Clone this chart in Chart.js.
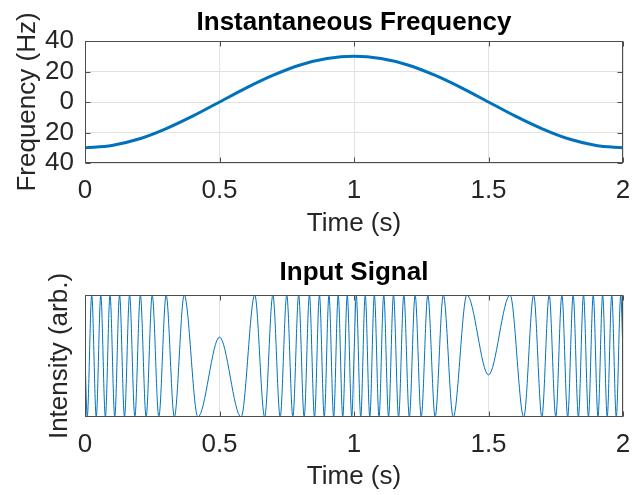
<!DOCTYPE html>
<html>
<head>
<meta charset="utf-8">
<script src="https://cdn.jsdelivr.net/npm/chart.js@4/dist/chart.umd.min.js"></script>
<style>
  body { margin: 0; background: #fff; }
  #wrap { position: relative; width: 634px; height: 495px; }
  .panel { position: absolute; left: 0; }
</style>
</head>
<body>
<div id="wrap">
  <div class="panel" style="top:0"><canvas id="freqChart" width="634" height="248"></canvas></div>
  <div class="panel" style="top:248px"><canvas id="signalChart" width="634" height="247"></canvas></div>
</div>
<script>
// time axis ticks (both panels)
var timeTicks = [0, 0.5, 1, 1.5, 2];
var timeTickLabels = ["0", "0.5", "1", "1.5", "2"];

// top panel: instantaneous frequency (Hz)
var freqTimes = [0, 0.1, 0.2, 0.3, 0.4, 0.5, 0.6, 0.7, 0.8, 0.9, 1.0,
                 1.1, 1.2, 1.3, 1.4, 1.5, 1.6, 1.7, 1.8, 1.9, 2.0];
var freqValues = [-30, -28.5, -24.3, -17.6, -9.3, 0, 9.3, 17.6, 24.3, 28.5, 30,
                  28.5, 24.3, 17.6, 9.3, 0, -9.3, -17.6, -24.3, -28.5, -30];
var freqTickValues = [-40, -20, 0, 20, 40];
var freqTickLabels = ["40", "20", "0", "20", "40"];

// bottom panel: input signal, turning points of the waveform
var signalTimes = [
  0,
  0.0083, 0.0250, 0.0418, 0.0587, 0.0757, 0.0930, 0.1106, 0.1285, 0.1468, 0.1657,
  0.1853, 0.2057, 0.2272, 0.2499, 0.2744, 0.3016, 0.3321, 0.3689, 0.4198,
  0.5,
  0.5802, 0.6311, 0.6679, 0.6984, 0.7256, 0.7501, 0.7728, 0.7943, 0.8147, 0.8343,
  0.8532, 0.8715, 0.8894, 0.9070, 0.9243, 0.9413, 0.9582, 0.9750, 0.9917,
  1.0,
  1.0083, 1.0250, 1.0418, 1.0587, 1.0757, 1.0930, 1.1106, 1.1285, 1.1468, 1.1657,
  1.1853, 1.2057, 1.2272, 1.2499, 1.2744, 1.3016, 1.3321, 1.3689, 1.4198,
  1.5,
  1.5802, 1.6311, 1.6679, 1.6984, 1.7256, 1.7501, 1.7728, 1.7943, 1.8147, 1.8343,
  1.8532, 1.8715, 1.8894, 1.9070, 1.9243, 1.9413, 1.9582, 1.9750, 1.9917,
  2.0
];
var signalValues = [
  0,
  -1, 1, -1, 1, -1, 1, -1, 1, -1, 1, -1, 1, -1, 1, -1, 1, -1, 1, -1,
  0.31,
  -1, 1, -1, 1, -1, 1, -1, 1, -1, 1, -1, 1, -1, 1, -1, 1, -1, 1, -1,
  0,
  1, -1, 1, -1, 1, -1, 1, -1, 1, -1, 1, -1, 1, -1, 1, -1, 1, -1, 1,
  -0.31,
  1, -1, 1, -1, 1, -1, 1, -1, 1, -1, 1, -1, 1, -1, 1, -1, 1, -1, 1,
  0
];

var FONT = "'Liberation Sans', Arial, Helvetica, sans-serif";
var TEXT = "#262626";
var BLUE = "#0072BD";
var GRID = "#e2e2e2";

// matlab style box with inward tick marks
var boxPlugin = {
  id: "box",
  afterDatasetsDraw: function(chart, args, opts) {
    var ctx = chart.ctx, a = chart.chartArea;
    var l = Math.round(a.left) + 0.5, r = Math.round(a.right) - 0.5;
    var t = Math.round(a.top) + 0.5, b = Math.round(a.bottom) - 0.5;
    ctx.save();
    ctx.strokeStyle = "#4d4d4d";
    ctx.lineWidth = 1;
    ctx.strokeRect(l, t, r - l, b - t);
    ctx.beginPath();
    timeTicks.forEach(function(v) {
      var x = Math.round(chart.scales.x.getPixelForValue(v)) + 0.5;
      ctx.moveTo(x, b); ctx.lineTo(x, b - 5);
      ctx.moveTo(x, t); ctx.lineTo(x, t + 5);
    });
    if (opts.yTicks) {
      opts.yTicks.forEach(function(v) {
        var y = Math.round(chart.scales.y.getPixelForValue(v)) + 0.5;
        ctx.moveTo(l, y); ctx.lineTo(l + 5, y);
        ctx.moveTo(r, y); ctx.lineTo(r - 5, y);
      });
    }
    ctx.stroke();
    ctx.restore();
  }
};

function pts(xs, ys) {
  return xs.map(function(x, i) { return {x: x, y: ys[i]}; });
}

function xScale(axisH, titlePad) {
  return {
    type: "linear", min: 0, max: 2,
    afterBuildTicks: function(s) { s.ticks = timeTicks.map(function(v) { return {value: v}; }); },
    afterFit: function(s) { s.height = axisH; s.paddingLeft = 0; s.paddingRight = 0; },
    grid: { color: GRID, drawTicks: false },
    border: { display: false },
    ticks: {
      autoSkip: false, maxRotation: 0, padding: 12, color: TEXT,
      font: { family: FONT, size: 26 },
      callback: function(v) { return timeTickLabels[timeTicks.indexOf(v)]; }
    },
    title: {
      display: true, text: "Time (s)", color: TEXT,
      font: { family: FONT, size: 26 }, padding: { top: 0, bottom: titlePad }
    }
  };
}

function titleOpts(text, top, bottom) {
  return {
    display: true, text: text, color: "#000", fullSize: false,
    font: { family: FONT, size: 26, weight: "bold" },
    padding: { top: top, bottom: bottom }
  };
}

new Chart("freqChart", {
  type: "line",
  data: {
    datasets: [{
      data: pts(freqTimes, freqValues),
      borderColor: BLUE, borderWidth: 3,
      pointRadius: 0, cubicInterpolationMode: "monotone", fill: false
    }]
  },
  options: {
    responsive: false, animation: false,
    layout: { padding: { left: 0, right: 11, top: 0, bottom: 0 } },
    plugins: {
      legend: { display: false }, tooltip: { enabled: false },
      title: titleOpts("Instantaneous Frequency", 6.9, 2.9),
      box: { yTicks: freqTickValues }
    },
    scales: {
      x: xScale(85, 8.4),
      y: {
        min: -40, max: 40,
        afterBuildTicks: function(s) { s.ticks = freqTickValues.map(function(v) { return {value: v}; }); },
        afterFit: function(s) { s.width = 85; },
        grid: { color: GRID, drawTicks: false },
        border: { display: false },
        ticks: {
          autoSkip: false, padding: 11, color: TEXT, font: { family: FONT, size: 26 },
          callback: function(v) { return freqTickLabels[freqTickValues.indexOf(v)]; }
        },
        title: {
          display: true, text: "Frequency (Hz)", color: TEXT,
          font: { family: FONT, size: 26 }, padding: { top: 12.4, bottom: 0 }
        }
      }
    }
  },
  plugins: [boxPlugin]
});

new Chart("signalChart", {
  type: "line",
  data: {
    datasets: [{
      data: pts(signalTimes, signalValues),
      borderColor: BLUE, borderWidth: 1,
      pointRadius: 0, cubicInterpolationMode: "monotone", fill: false
    }]
  },
  options: {
    responsive: false, animation: false,
    layout: { padding: { left: 0, right: 11, top: 0, bottom: 0 } },
    plugins: {
      legend: { display: false }, tooltip: { enabled: false },
      title: titleOpts("Input Signal", 9.4, 6.4),
      box: {}
    },
    scales: {
      x: xScale(78, 2.4),
      y: {
        min: -1, max: 1,
        afterFit: function(s) { s.width = 85; },
        grid: { display: false },
        border: { display: false },
        ticks: { display: false },
        title: {
          display: true, text: "Intensity (arb.)", color: TEXT,
          font: { family: FONT, size: 26 }, padding: { top: 44.4, bottom: 0 }
        }
      }
    }
  },
  plugins: [boxPlugin]
});
</script>
</body>
</html>
